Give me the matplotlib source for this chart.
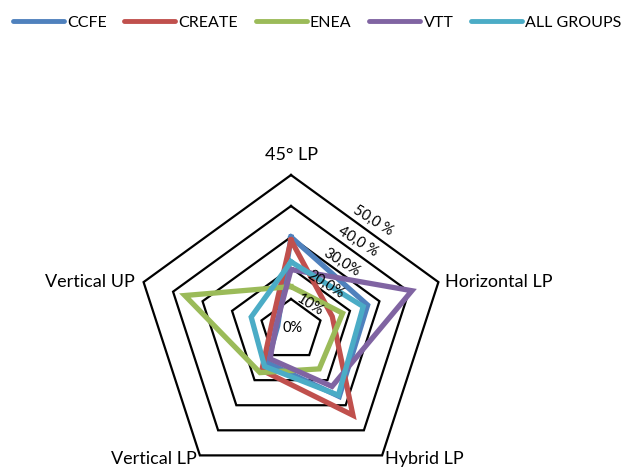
import numpy as np
import matplotlib
matplotlib.use('Agg')
from matplotlib import pyplot as plt

plt.rcParams['font.family'] = ['Lato', 'DejaVu Sans']

axes_names = ['45° LP', 'Horizontal LP', 'Hybrid LP', 'Vertical LP', 'Vertical UP']
series_names = ['CCFE', 'CREATE', 'ENEA', 'VTT', 'ALL GROUPS']
ccfe = [30, 26, 26.5, 13, 4.5]
create = [29, 14, 34, 16, 6.5]
enea = [14, 17.5, 15.5, 17, 36]
vtt = [19.5, 41, 22.5, 11.5, 5]
all_groups = [22, 24.5, 26, 14.5, 13.5]
ticks = [0, 10, 20, 30, 40, 50]
tick_labels = ['0%', '10%', '20,0%', '30,0%', '40,0 %', '50,0 %']

colors = ['#4F81BD', '#C0504D', '#9BBB59', '#8064A2', '#4BACC6']

ang = np.pi / 2 - 2 * np.pi * np.arange(5) / 5
ux, uy = np.cos(ang), np.sin(ang)

def closed(vals):
    v = np.array(list(vals) + [vals[0]], dtype=float)
    return v * np.append(ux, ux[0]), v * np.append(uy, uy[0])

fig = plt.figure(figsize=(6.34, 4.69), dpi=100)
ax = fig.add_axes([0, 0, 1, 1])
s = 3.1  # px per percent
ax.set_xlim(-291 / s, (634 - 291) / s)
ax.set_ylim(-(469 - 330) / s, 330 / s)
ax.axis('off')

# pentagon grid
for t in ticks[1:]:
    gx, gy = closed([t] * 5)
    ax.plot(gx, gy, color='black', lw=1.6, solid_joinstyle='miter', zorder=1)

data = [ccfe, create, enea, vtt, all_groups]
for i, vals in enumerate(data):
    x, y = closed(vals)
    ax.plot(x, y, color=colors[i], lw=3.8, solid_joinstyle='miter',
            label=series_names[i], zorder=2 + i)

# tick labels along slanted line
a = np.deg2rad(53)
for t, lab in zip(ticks, tick_labels):
    d = 0.855 * t + 1.45 if t > 0 else 1.0
    rot = -32 if t > 0 else 0
    ax.text(d * np.cos(a), d * np.sin(a), lab, fontsize=10.5, rotation=rot,
            ha='center', va='center', rotation_mode='anchor', zorder=10)

# category labels
R = 50
fs = 13
ax.text(0, R + 4, axes_names[0], fontsize=fs, ha='center', va='bottom')
ax.text(R * ux[1] + 2, R * uy[1], axes_names[1], fontsize=fs, ha='left', va='center')
ax.text(R * ux[2] + 1, -(469 - 330 - 2) / s, axes_names[2], fontsize=fs, ha='left', va='bottom')
ax.text(R * ux[3] - 1, -(469 - 330 - 2) / s, axes_names[3], fontsize=fs, ha='right', va='bottom')
ax.text(R * ux[4] - 3, R * uy[4], axes_names[4], fontsize=fs, ha='right', va='center')

leg = fig.legend(loc='upper center', bbox_to_anchor=(0.5, 0.997), ncol=5, frameon=False,
                 fontsize=11.5, handlelength=3.2, handletextpad=0.2, columnspacing=1.1)
for h in leg.get_lines():
    h.set_linewidth(3.5)
    h.set_solid_capstyle('round')

fig.savefig('out.png', dpi=100)
